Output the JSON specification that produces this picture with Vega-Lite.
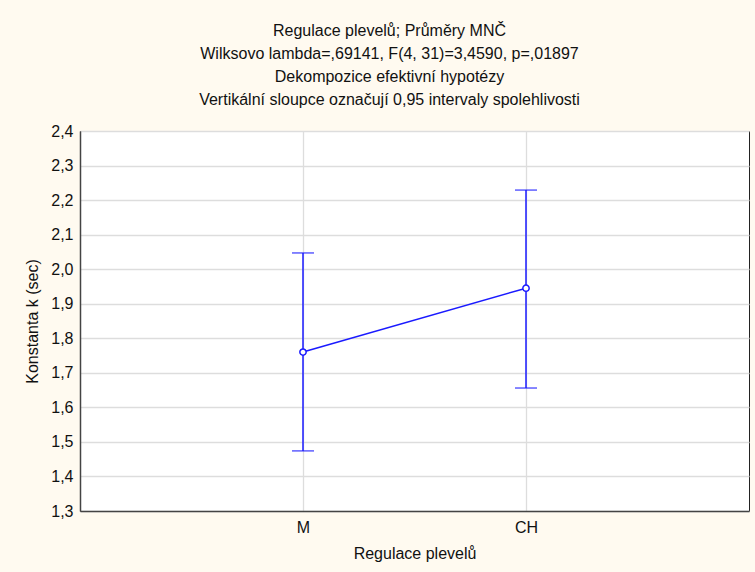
{
  "$schema": "https://vega.github.io/schema/vega-lite/v6.json",
  "width": 669,
  "height": 380,
  "autosize": {"type": "none"},
  "padding": {"left": 80, "top": 131, "right": 6, "bottom": 61},
  "background": "#fffaf0",
  "title": {
    "text": [
      "Regulace plevelů; Průměry MNČ",
      "Wilksovo lambda=,69141, F(4, 31)=3,4590, p=,01897",
      "Dekompozice efektivní hypotézy",
      "Vertikální sloupce označují 0,95 intervaly spolehlivosti"
    ],
    "font": "Liberation Sans",
    "fontSize": 16,
    "fontWeight": "normal",
    "lineHeight": 23,
    "offset": 15,
    "anchor": "middle",
    "dx": -25,
    "color": "#111111"
  },
  "config": {
    "view": {"stroke": "#222222", "strokeWidth": 1, "fill": "white"},
    "axis": {
      "labelFont": "Liberation Sans",
      "labelFontSize": 16,
      "labelColor": "#111111",
      "labelOverlap": false,
      "titleFont": "Liberation Sans",
      "titleFontSize": 16,
      "titleFontWeight": "normal",
      "titleColor": "#111111",
      "gridColor": "#dddddd",
      "gridWidth": 1.3,
      "domainColor": "#444444",
      "domainWidth": 1.5,
      "ticks": false
    },
    "axisX": {"labelPadding": 8, "titlePadding": 10, "labelAngle": 0},
    "axisY": {"labelPadding": 7, "titlePadding": 10}
  },
  "data": {
    "values": [
      {"regulace": "M", "mean": 1.760, "lower": 1.474, "upper": 2.047},
      {"regulace": "CH", "mean": 1.945, "lower": 1.656, "upper": 2.229}
    ]
  },
  "encoding": {
    "x": {
      "field": "regulace",
      "type": "nominal",
      "sort": ["M", "CH"],
      "title": "Regulace plevelů",
      "scale": {"type": "point", "padding": 1},
      "axis": {"grid": true}
    }
  },
  "layer": [
    {
      "mark": {"type": "rule", "color": "#1a1aff", "strokeWidth": 1.5},
      "encoding": {
        "y": {
          "field": "lower",
          "type": "quantitative",
          "title": "Konstanta k (sec)",
          "scale": {"domain": [1.3, 2.4], "nice": false, "zero": false},
          "axis": {
            "values": [1.3, 1.4, 1.5, 1.6, 1.7, 1.8, 1.9, 2.0, 2.1, 2.2, 2.3, 2.4],
            "tickCount": 12,
            "labelExpr": "replace(format(datum.value, '.1f'), '.', ',')",
            "labelOverlap": false
          }
        },
        "y2": {"field": "upper"}
      }
    },
    {
      "mark": {"type": "tick", "color": "#1a1aff", "thickness": 1.5, "size": 22},
      "encoding": {
        "y": {"field": "lower", "type": "quantitative", "title": "Konstanta k (sec)"}
      }
    },
    {
      "mark": {"type": "tick", "color": "#1a1aff", "thickness": 1.5, "size": 22},
      "encoding": {
        "y": {"field": "upper", "type": "quantitative", "title": "Konstanta k (sec)"}
      }
    },
    {
      "mark": {"type": "line", "color": "#1a1aff", "strokeWidth": 1.5},
      "encoding": {
        "y": {"field": "mean", "type": "quantitative", "title": "Konstanta k (sec)"}
      }
    },
    {
      "mark": {"type": "point", "color": "#1a1aff", "fill": "white", "filled": false, "size": 40, "strokeWidth": 1.5, "opacity": 1},
      "encoding": {
        "y": {"field": "mean", "type": "quantitative", "title": "Konstanta k (sec)"}
      }
    }
  ]
}
